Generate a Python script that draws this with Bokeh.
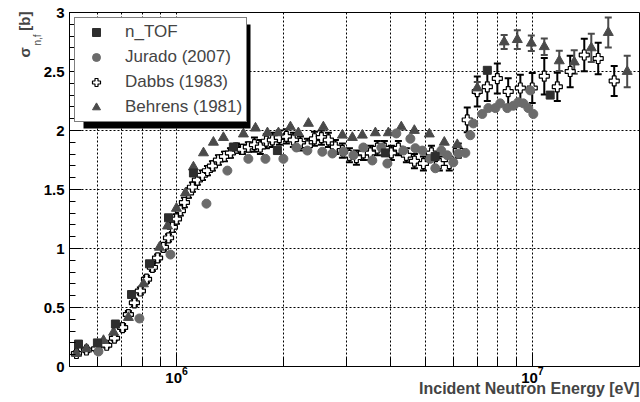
import numpy as np
from bokeh.plotting import figure
from bokeh.models import (ColumnDataSource, Whisker, TeeHead, FixedTicker, Legend, LegendItem,
                          BoxAnnotation, Title, NumeralTickFormatter)
from bokeh.embed import file_html
from bokeh.resources import INLINE

# ---------------- data ----------------
ntof_e = [5.30e5, 5.99e5, 6.73e5, 7.47e5, 8.39e5, 9.49e5, 1.115e6, 1.444e6, 1.92e6,
          3.86e6, 5.33e6, 7.47e6, 1.122e7]
ntof_s = [0.19, 0.20, 0.36, 0.61, 0.87, 1.26, 1.64, 1.86, 1.83,
          1.81, 1.78, 2.51, 2.30]

jurado_e = [6.03e5, 7.86e5, 9.61e5, 1.213e6, 1.389e6, 1.591e6, 1.777e6, 1.996e6, 2.171e6, 2.331e6,
            2.568e6, 2.741e6, 2.943e6, 3.140e6, 3.349e6, 3.549e6, 3.762e6, 3.912e6, 4.145e6, 4.337e6,
            4.54e6, 4.688e6, 4.905e6, 5.164e6, 5.335e6, 5.546e6, 5.766e6, 5.994e6, 6.19e6, 6.48e6,
            6.69e6, 6.82e6, 7.23e6, 7.52e6, 7.87e6, 8.12e6, 8.50e6, 8.84e6, 9.13e6, 9.43e6,
            9.74e6, 9.86e6, 1.006e7]
jurado_s = [0.127, 0.407, 0.949, 1.38, 1.66, 1.76, 1.76, 1.76, 1.856, 1.83,
            1.82, 1.805, 1.82, 1.79, 1.856, 1.746, 1.856, 1.72, 1.975, 1.83,
            1.93, 1.85, 1.83, 1.76, 1.68, 1.83, 1.79, 1.73, 1.805, 1.81,
            1.96, 2.06, 2.14, 2.19, 2.19, 2.23, 2.19, 2.21, 2.24, 2.23,
            2.19, 2.34, 2.14]

dabbs_e = [5.23e5, 5.58e5, 5.96e5, 6.36e5, 6.69e5, 7.05e5, 7.32e5, 7.61e5, 7.91e5, 8.23e5,
           8.55e5, 8.84e5, 9.18e5, 9.49e5, 9.73e5, 9.99e5,
           1.025e6, 1.052e6, 1.080e6, 1.108e6, 1.144e6, 1.182e6, 1.221e6, 1.261e6, 1.311e6, 1.363e6,
           1.417e6, 1.473e6, 1.531e6, 1.591e6,
           1.655e6, 1.720e6, 1.788e6, 1.859e6, 1.945e6, 2.035e6, 2.129e6, 2.228e6, 2.331e6, 2.440e6,
           2.553e6, 2.671e6, 2.795e6, 2.924e6, 3.060e6, 3.202e6, 3.350e6, 3.505e6, 3.667e6, 3.837e6,
           4.015e6, 4.201e6, 4.424e6, 4.661e6, 4.940e6, 5.203e6, 5.477e6, 5.84e6, 6.19e6,
           6.56e6, 7.00e6, 7.47e6, 7.97e6, 8.55e6, 9.25e6, 9.99e6, 1.080e7, 1.175e7, 1.277e7,
           1.399e7, 1.531e7, 1.698e7]
dabbs_s = [0.11, 0.14, 0.15, 0.18, 0.24, 0.33, 0.44, 0.54, 0.64, 0.74,
           0.84, 0.92, 1.01, 1.09, 1.18, 1.25,
           1.32, 1.39, 1.47, 1.52, 1.58, 1.62, 1.66, 1.70, 1.75, 1.78,
           1.81, 1.85, 1.84, 1.86,
           1.88, 1.86, 1.91, 1.92, 1.94, 1.95, 1.92, 1.89, 1.87, 1.93,
           1.94, 1.92, 1.86, 1.83, 1.79, 1.77, 1.81, 1.81, 1.85, 1.85,
           1.81, 1.85, 1.79, 1.74, 1.72, 1.81, 1.72, 1.72, 1.83,
           2.09, 2.33, 2.37, 2.44, 2.33, 2.36, 2.36, 2.46, 2.37, 2.50,
           2.64, 2.61, 2.42]
dabbs_err = [0.02, 0.02, 0.02, 0.02, 0.02, 0.03, 0.03, 0.03, 0.03, 0.03,
             0.03, 0.03, 0.03, 0.03, 0.04, 0.04,
             0.04, 0.04, 0.04, 0.04, 0.04, 0.04, 0.04, 0.04, 0.04, 0.04,
             0.04, 0.04, 0.04, 0.04,
             0.06, 0.06, 0.06, 0.06, 0.06, 0.06, 0.06, 0.06, 0.06, 0.06,
             0.06, 0.06, 0.06, 0.06, 0.06, 0.06, 0.06, 0.06, 0.06, 0.06,
             0.06, 0.06, 0.06, 0.06, 0.06, 0.06, 0.06, 0.06, 0.06,
             0.105, 0.127, 0.12, 0.127, 0.113, 0.113, 0.127, 0.155, 0.12, 0.134,
             0.137, 0.134, 0.127]

behrens_e = [5.23e5, 5.58e5, 6.23e5, 6.65e5, 7.32e5, 8.07e5, 8.95e5, 9.43e5, 9.99e5, 1.059e6,
             1.115e6, 1.190e6, 1.269e6, 1.354e6, 1.541e6, 1.666e6, 1.800e6, 1.933e6, 2.089e6, 2.199e6,
             2.347e6, 2.585e6, 2.924e6, 3.119e6, 3.327e6, 3.620e6, 3.937e6, 4.281e6, 4.658e6, 5.132e6,
             5.655e6, 6.15e6,
             7.00e6, 8.33e6, 9.07e6, 9.93e6, 1.080e7, 1.190e7, 1.311e7, 1.464e7, 1.634e7, 1.847e7]
behrens_s = [0.11, 0.15, 0.22, 0.29, 0.415, 0.70, 1.01, 1.19, 1.34, 1.47,
             1.69, 1.81, 1.90, 1.94, 1.97, 2.02, 1.98, 1.98, 2.03, 1.98,
             2.06, 2.03, 1.96, 1.94, 1.96, 1.98, 1.98, 2.03, 2.00, 1.97,
             1.90, 1.88,
             2.36, 2.75, 2.77, 2.74, 2.71, 2.59, 2.58, 2.70, 2.83, 2.50]
behrens_err = [0, 0, 0, 0, 0, 0, 0, 0, 0, 0,
               0, 0, 0, 0, 0, 0, 0, 0, 0, 0,
               0, 0, 0, 0, 0, 0, 0, 0, 0, 0,
               0, 0,
               0.05, 0.06, 0.08, 0.066, 0.07, 0.085, 0.10, 0.12, 0.127, 0.134]

labels = ["n_TOF", "Jurado (2007)", "Dabbs (1983)", "Behrens (1981)"]
x_major = [1e6, 1e7]
x_minor = [5e5, 6e5, 7e5, 8e5, 9e5, 2e6, 3e6, 4e6, 5e6, 6e6, 7e6, 8e6, 9e6, 2e7]
y_major = [0, 0.5, 1, 1.5, 2, 2.5, 3]

FONT = "Liberation Sans"

p = figure(width=640, height=402, x_axis_type="log", x_range=(5e5, 2e7), y_range=(0, 3),
           output_backend="svg", toolbar_location=None,
           min_border_left=69, min_border_right=1, min_border_top=12, min_border_bottom=36)
p.background_fill_color = "white"
p.border_fill_color = "white"
p.outline_line_color = "black"
p.outline_line_width = 1

# axes
p.xaxis.ticker = FixedTicker(ticks=x_major, minor_ticks=x_minor)
p.yaxis.ticker = FixedTicker(ticks=y_major, minor_ticks=list(np.round(np.arange(0, 3.01, 0.1), 2)))
p.yaxis.formatter = NumeralTickFormatter(format="0.[0]")
for ax in (p.xaxis, p.yaxis):
    ax.axis_line_color = "black"
    ax.major_tick_line_color = "black"
    ax.minor_tick_line_color = "black"
    ax.major_tick_out = 0
    ax.minor_tick_out = 0
    ax.major_label_text_font = FONT
    ax.major_label_text_font_style = "bold"
    ax.major_label_text_font_size = "15px"
    ax.major_label_text_color = "black"
p.xaxis.major_tick_in = 14
p.xaxis.minor_tick_in = 9
p.yaxis.major_tick_in = 12
p.yaxis.minor_tick_in = 6
p.xaxis.major_label_standoff = 0
p.yaxis.major_label_standoff = 5

# grid
p.xgrid.grid_line_color = "black"
p.xgrid.grid_line_dash = "2 2"
p.xgrid.minor_grid_line_color = "black"
p.xgrid.minor_grid_line_dash = "2 2"
p.ygrid.grid_line_color = "black"
p.ygrid.grid_line_dash = "2 2"

# error bars
dsrc = ColumnDataSource(dict(e=dabbs_e,
                             lo=[s - d for s, d in zip(dabbs_s, dabbs_err)],
                             hi=[s + d for s, d in zip(dabbs_s, dabbs_err)]))
p.add_layout(Whisker(source=dsrc, base="e", lower="lo", upper="hi", dimension="height",
                     line_color="black", line_width=2,
                     upper_head=TeeHead(size=7, line_color="black", line_width=2),
                     lower_head=TeeHead(size=7, line_color="black", line_width=2)))
bsel = [i for i, d in enumerate(behrens_err) if d > 0]
bsrc = ColumnDataSource(dict(e=[behrens_e[i] for i in bsel],
                             lo=[behrens_s[i] - behrens_err[i] for i in bsel],
                             hi=[behrens_s[i] + behrens_err[i] for i in bsel]))
p.add_layout(Whisker(source=bsrc, base="e", lower="lo", upper="hi", dimension="height",
                     line_color="#4a4a4a", line_width=2,
                     upper_head=TeeHead(size=7, line_color="#4a4a4a", line_width=2),
                     lower_head=TeeHead(size=7, line_color="#4a4a4a", line_width=2)))

# markers
r_d = p.scatter(dabbs_e, dabbs_s, marker="plus", size=10, fill_color="white",
                line_color="black", line_width=1.2)
r_b = p.scatter(behrens_e, behrens_s, marker="triangle", size=10,
                fill_color="#4a4a4a", line_color="#4a4a4a")
r_j = p.scatter(jurado_e, jurado_s, marker="circle", size=9,
                fill_color="#6b6b6b", line_color="#6b6b6b")
r_n = p.scatter(ntof_e, ntof_s, marker="square", size=8,
                fill_color="#2e2e2e", line_color="#2e2e2e")

# legend with shadow
p.add_layout(BoxAnnotation(left=14, right=181, bottom=238, top=342,
                           left_units="screen", right_units="screen",
                           bottom_units="screen", top_units="screen",
                           fill_color="black", fill_alpha=1, line_color=None))
legend = Legend(items=[LegendItem(label=labels[0], renderers=[r_n]),
                       LegendItem(label=labels[1], renderers=[r_j]),
                       LegendItem(label=labels[2], renderers=[r_d]),
                       LegendItem(label=labels[3], renderers=[r_b])],
                location=(5, 244), margin=0, padding=4, spacing=5,
                glyph_width=34, glyph_height=20, label_height=20, label_standoff=12,
                label_text_font=FONT, label_text_font_size="17px",
                border_line_color="black", border_line_width=1,
                background_fill_color="white", background_fill_alpha=1)
p.add_layout(legend)

# axis titles
p.add_layout(Title(text="Incident Neutron Energy [eV]", align="right", standoff=-16,
                   text_font=FONT, text_font_style="bold", text_font_size="16px"), "below")
p.add_layout(Title(text="n,f", align="right", offset=22, standoff=-4,
                   text_font=FONT, text_font_style="normal", text_font_size="10px"), "left")
p.add_layout(Title(text="σ\u00a0\u00a0\u00a0\u00a0[b]", align="right", offset=-1, standoff=-2,
                   text_font=FONT, text_font_style="bold", text_font_size="15px"), "left")

open("out.html", "w").write(file_html(p, INLINE))
